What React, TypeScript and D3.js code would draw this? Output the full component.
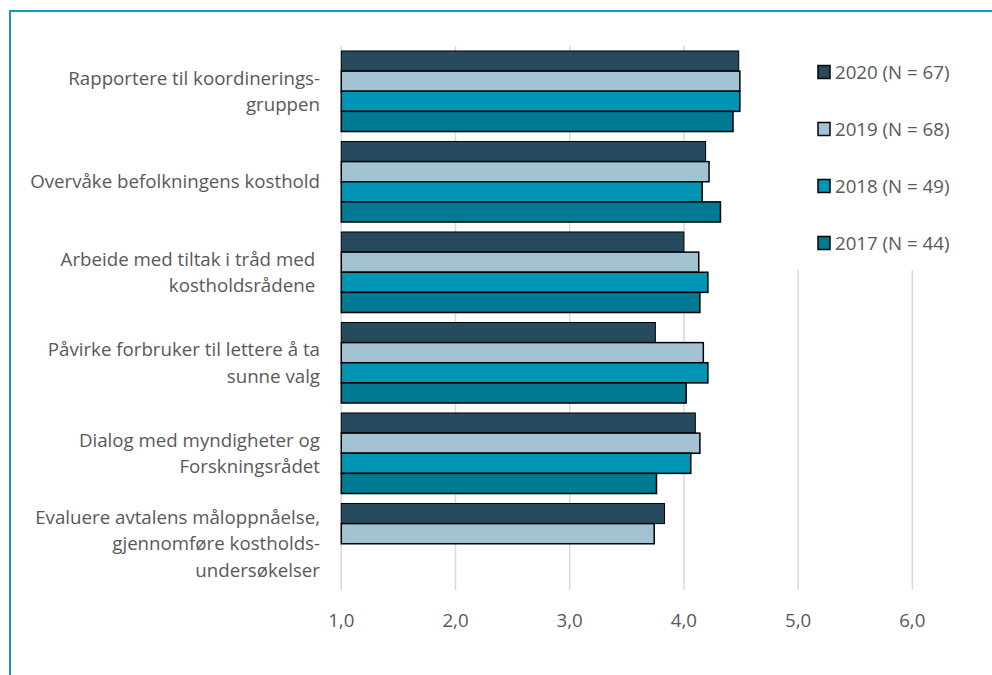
import React from "react";
import * as d3 from "d3";

const categories: string[][] = [
  ["Rapportere til koordinerings-", "gruppen"],
  ["Overvåke befolkningens kosthold"],
  ["Arbeide med tiltak i tråd med ", "kostholdsrådene "],
  ["Påvirke forbruker til lettere å ta", "sunne valg"],
  ["Dialog med myndigheter og", "Forskningsrådet"],
  ["Evaluere avtalens måloppnåelse,", "gjennomføre kostholds-", "undersøkelser"],
];

const seriesNames = ["2020 (N = 67)", "2019 (N = 68)", "2018 (N = 49)", "2017 (N = 44)"];
const colors = ["#264b5f", "#a3c3d3", "#0094b5", "#007a92"];

const values2020 = [4.48, 4.19, 4.0, 3.75, 4.1, 3.83];
const values2019 = [4.49, 4.22, 4.13, 4.17, 4.14, 3.74];
const values2018 = [4.49, 4.16, 4.21, 4.21, 4.06, null];
const values2017 = [4.43, 4.32, 4.14, 4.02, 3.76, null];
const seriesValues = [values2020, values2019, values2018, values2017];

const ticks = [1, 2, 3, 4, 5, 6];

const FONT = "'Source Sans Pro', 'Open Sans', sans-serif";

export default function App() {
  const W = 992, H = 675;
  const x = d3.scaleLinear().domain([1, 6]).range([341.3, 912.3]);
  const y = d3.scaleBand<number>().domain(d3.range(categories.length)).range([46, 589]).paddingInner(0.11).paddingOuter(0.055);
  const inner = d3.scaleBand<number>().domain(d3.range(seriesNames.length)).range([0, y.bandwidth()]);
  const fmt = (v: number) => d3.format(".1f")(v).replace(".", ",");
  const lineH = 26.5;
  const fs = 18.7;

  return (
    <svg width={W} height={H} style={{ position: "absolute", left: 0, top: 0, fontFamily: FONT }}>
      <rect x={0} y={0} width={W} height={H} fill="#fff" />
      {/* frame */}
      <line x1={9} x2={W} y1={11} y2={11} stroke="#1797b8" strokeWidth={2} />
      <line x1={10} x2={10} y1={10} y2={H} stroke="#1797b8" strokeWidth={2} />
      {/* gridlines */}
      {ticks.map((t) => (
        <line key={t} x1={x(t)} x2={x(t)} y1={46} y2={590} stroke="#d9d9d9" strokeWidth={1.5} />
      ))}
      {/* bars */}
      {categories.map((c, i) =>
        seriesValues.map((vals, s) => {
          const v = vals[i];
          if (v == null) return null;
          return (
            <rect
              key={`${i}-${s}`}
              x={x(1)}
              y={(y(i) as number) + (inner(s) as number)}
              width={x(v) - x(1)}
              height={inner.bandwidth()}
              fill={colors[s]}
              stroke="#000"
              strokeWidth={s === 0 ? 1 : 1.5}
            />
          );
        })
      )}
      {/* category labels */}
      {categories.map((lines, i) => {
        const cy = (y(i) as number) + y.bandwidth() / 2;
        const start = cy - ((lines.length - 1) * lineH) / 2;
        return (
          <text key={i} x={320} textAnchor="end" fontSize={fs} fill="#595959" style={{ whiteSpace: "pre" }}>
            {lines.map((l, k) => (
              <tspan key={k} x={320} y={start + k * lineH} dy="0.35em">{l}</tspan>
            ))}
          </text>
        );
      })}
      {/* x tick labels */}
      {ticks.map((t) => (
        <text key={t} x={x(t)} y={620} dy="0.35em" textAnchor="middle" fontSize={fs} fill="#595959">
          {fmt(t)}
        </text>
      ))}
      {/* legend */}
      <rect x={790} y={46} width={200} height={224} fill="#fff" />
      {seriesNames.map((n, s) => {
        const ly = 72 + s * 57;
        return (
          <g key={n}>
            <rect x={818} y={ly - 6.5} width={12} height={13} fill={colors[s]} stroke="#000" strokeWidth={1.5} />
            <text x={835} y={ly} dy="0.35em" fontSize={fs} fill="#595959">{n}</text>
          </g>
        );
      })}
    </svg>
  );
}
